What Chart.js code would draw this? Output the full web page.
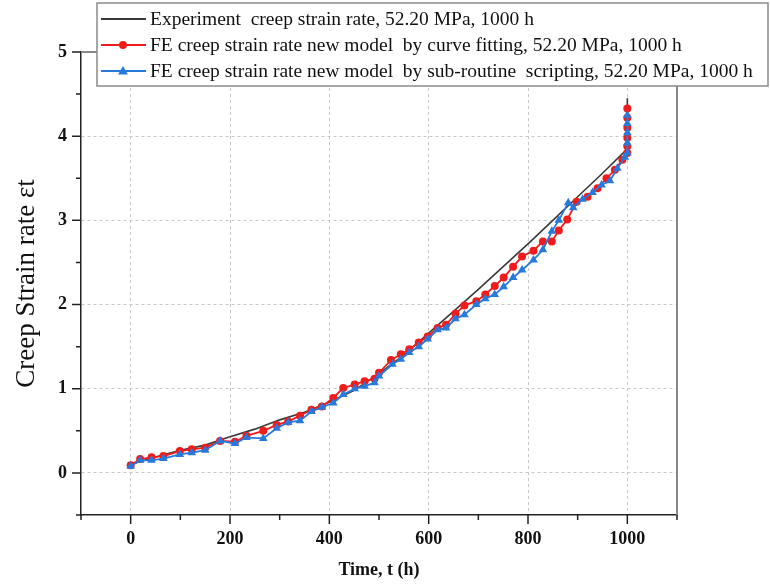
<!DOCTYPE html>
<html>
<head>
<meta charset="utf-8">
<script src="https://cdn.jsdelivr.net/npm/chart.js@4.4.0/dist/chart.umd.min.js"></script>
<style>
    html, body { margin: 0; padding: 0; background: #fff; }
    #wrap { width: 770px; height: 584px; }
</style>
</head>
<body>
<div id="wrap"><canvas id="myChart" width="770" height="584"></canvas></div>
<script>
// experiment curve (black line)
const expTime  = [0, 50, 100, 150, 200, 250, 300, 350, 400, 450, 500, 550, 600, 650, 700, 750, 800, 850, 900, 950, 1000, 1000];
const expValue = [0.1, 0.19, 0.27, 0.33, 0.43, 0.52, 0.63, 0.72, 0.84, 0.98, 1.18, 1.4, 1.66, 1.92, 2.18, 2.45, 2.72, 3.0, 3.28, 3.56, 3.85, 4.45];

// FE by curve fitting (red dots)
const fitTime  = [0, 19, 42, 66, 99, 123, 150, 180, 210, 233, 267, 294, 317, 341, 364, 385, 408, 428, 451, 471,
                  491, 500, 524, 544, 561, 580, 598, 618, 635, 654, 672, 696, 714, 733, 751, 770, 788, 811, 830, 848,
                  862, 879, 898, 920, 940, 958, 975, 990, 1000, 1000, 1000, 1000, 1000, 1000];
const fitValue = [0.09, 0.165, 0.185, 0.2, 0.26, 0.28, 0.3, 0.38, 0.37, 0.44, 0.5, 0.57, 0.61, 0.68, 0.75, 0.79, 0.89, 1.01, 1.05, 1.09,
                  1.12, 1.19, 1.34, 1.41, 1.47, 1.55, 1.62, 1.72, 1.76, 1.89, 1.99, 2.04, 2.12, 2.22, 2.32, 2.45, 2.57, 2.64, 2.75, 2.75,
                  2.88, 3.01, 3.22, 3.28, 3.38, 3.5, 3.6, 3.72, 3.8, 3.88, 3.98, 4.1, 4.22, 4.33];

// FE by sub-routine scripting (blue triangles)
const subTime  = [0, 19, 42, 66, 99, 123, 150, 180, 210, 233, 267, 294, 317, 341, 364, 385, 408, 428, 451, 471,
                  491, 500, 527, 544, 561, 580, 598, 618, 635, 654, 672, 696, 714, 733, 751, 770, 788, 811, 830, 848,
                  862, 881, 891, 910, 930, 948, 965, 980, 995, 1000, 1000, 1000, 1000, 1000];
const subValue = [0.08, 0.15, 0.15, 0.17, 0.22, 0.24, 0.27, 0.38, 0.35, 0.42, 0.41, 0.53, 0.6, 0.62, 0.73, 0.78, 0.83, 0.93, 1.0, 1.03,
                  1.07, 1.15, 1.29, 1.35, 1.43, 1.5, 1.59, 1.7, 1.72, 1.83, 1.88, 2.0, 2.07, 2.12, 2.21, 2.32, 2.41, 2.53, 2.65, 2.87,
                  3.0, 3.21, 3.15, 3.25, 3.33, 3.42, 3.47, 3.62, 3.75, 3.8, 3.92, 4.04, 4.15, 4.25];

const xTickLabels = [0, 200, 400, 600, 800, 1000];
const yTickLabels = [0, 1, 2, 3, 4, 5];
const seriesNames = [
    'Experiment  creep strain rate, 52.20 MPa, 1000 h',
    'FE creep strain rate new model  by curve fitting, 52.20 MPa, 1000 h',
    'FE creep strain rate new model  by sub-routine  scripting, 52.20 MPa, 1000 h'
];

const serif = "'Liberation Serif', 'DejaVu Serif', serif";
const RED = '#f01c1c';
const BLUE = '#2779dc';
const BLACK = '#3a3a3a';

function toPoints(t, v) {
    return t.map(function (x, i) { return {x: x, y: v[i]}; });
}

// outer tick marks + right/top frame lines
const frame = {
    id: 'frame',
    afterDraw(chart) {
        const ctx = chart.ctx;
        const area = chart.chartArea;
        const xs = chart.scales.x, ys = chart.scales.y;
        ctx.save();
        ctx.strokeStyle = '#222';
        ctx.lineWidth = 1.5;
        ctx.beginPath();
        xs.ticks.forEach(function (t) {
            const px = xs.getPixelForValue(t.value);
            const len = xTickLabels.includes(t.value) ? 9 : 5;
            ctx.moveTo(px, area.bottom);
            ctx.lineTo(px, area.bottom + len);
        });
        ys.ticks.forEach(function (t) {
            const py = ys.getPixelForValue(t.value);
            const len = yTickLabels.includes(t.value) ? 9 : 5;
            ctx.moveTo(area.left, py);
            ctx.lineTo(area.left - len, py);
        });
        ctx.stroke();
        ctx.strokeStyle = '#888';
        ctx.lineWidth = 2;
        ctx.beginPath();
        ctx.moveTo(area.left, area.top);
        ctx.lineTo(area.right, area.top);
        ctx.lineTo(area.right, area.bottom);
        ctx.stroke();
        ctx.restore();
    }
};

// boxed legend overlapping the top of the plot
const legendBox = {
    id: 'legendBox',
    afterDraw(chart) {
        const ctx = chart.ctx;
        const rows = [19, 45, 71];
        ctx.save();
        ctx.fillStyle = '#fff';
        ctx.fillRect(97, 3, 671, 83);
        ctx.strokeStyle = '#8a8a8a';
        ctx.lineWidth = 1.5;
        ctx.strokeRect(97, 3, 671, 83);

        const colors = [BLACK, RED, BLUE];
        rows.forEach(function (y, i) {
            ctx.strokeStyle = colors[i];
            ctx.lineWidth = 2;
            ctx.beginPath();
            ctx.moveTo(101, y);
            ctx.lineTo(146, y);
            ctx.stroke();
            ctx.fillStyle = colors[i];
            if (i === 1) {
                ctx.beginPath();
                ctx.arc(123, y, 4, 0, Math.PI * 2);
                ctx.fill();
            } else if (i === 2) {
                ctx.beginPath();
                ctx.moveTo(123, y - 5);
                ctx.lineTo(128, y + 3.5);
                ctx.lineTo(118, y + 3.5);
                ctx.closePath();
                ctx.fill();
            }
            ctx.fillStyle = '#111';
            ctx.font = '19.5px ' + serif;
            ctx.textBaseline = 'middle';
            ctx.textAlign = 'left';
            ctx.fillText(seriesNames[i], 150, y + 1);
        });
        ctx.restore();
    }
};

const ctx = document.getElementById('myChart');

const myChart = new Chart(ctx, {
    type: 'line',
    data: {
        datasets: [{
            label: seriesNames[0],
            data: toPoints(expTime, expValue),
            borderColor: BLACK,
            borderWidth: 1.6,
            pointRadius: 0,
            order: 3
        }, {
            label: seriesNames[1],
            data: toPoints(fitTime, fitValue),
            borderColor: RED,
            backgroundColor: RED,
            borderWidth: 1.8,
            pointStyle: 'circle',
            pointRadius: 4,
            pointBorderWidth: 0,
            order: 2
        }, {
            label: seriesNames[2],
            data: toPoints(subTime, subValue),
            borderColor: BLUE,
            backgroundColor: BLUE,
            borderWidth: 1.8,
            pointStyle: 'triangle',
            pointRadius: 5,
            pointBorderWidth: 0,
            order: 1
        }]
    },
    options: {
        responsive: false,
        devicePixelRatio: 1,
        animation: false,
        layout: {
            padding: {top: 52, right: 93, left: 0, bottom: 0}
        },
        plugins: {
            legend: {display: false},
            tooltip: {enabled: false}
        },
        scales: {
            x: {
                type: 'linear',
                min: -100,
                max: 1100,
                afterFit: function (scale) { scale.height = 69; },
                ticks: {
                    stepSize: 100,
                    autoSkip: false,
                    maxRotation: 0,
                    padding: 14,
                    color: '#111',
                    font: {family: serif, size: 18, weight: 'bold'},
                    callback: function (v) { return xTickLabels.includes(v) ? String(v) : ''; }
                },
                grid: {
                    drawTicks: false,
                    lineWidth: 1,
                    color: function (c) {
                        return c.tick && xTickLabels.includes(c.tick.value) ? '#c6c6c6' : 'rgba(0,0,0,0)';
                    }
                },
                border: {color: '#222', width: 1.5, dash: [3, 3]},
                title: {
                    display: true,
                    text: 'Time, t (h)',
                    color: '#111',
                    font: {family: serif, size: 18, weight: 'bold'},
                    padding: {top: 0, bottom: 3}
                }
            },
            y: {
                min: -0.5,
                max: 5,
                afterFit: function (scale) { scale.width = 81; },
                ticks: {
                    stepSize: 0.5,
                    autoSkip: false,
                    padding: 14,
                    color: '#111',
                    font: {family: serif, size: 18, weight: 'bold'},
                    callback: function (v) { return yTickLabels.includes(v) ? String(v) : ''; }
                },
                grid: {
                    drawTicks: false,
                    lineWidth: 1,
                    color: function (c) {
                        return c.tick && yTickLabels.includes(c.tick.value) && c.tick.value < 5 ? '#c6c6c6' : 'rgba(0,0,0,0)';
                    }
                },
                border: {color: '#222', width: 1.5, dash: [3, 3]},
                title: {
                    display: true,
                    text: 'Creep Strain rate εt',
                    color: '#111',
                    font: {family: serif, size: 27},
                    padding: {top: 11, bottom: 0}
                }
            }
        }
    },
    plugins: [frame, legendBox]
});
</script>
</body>
</html>
